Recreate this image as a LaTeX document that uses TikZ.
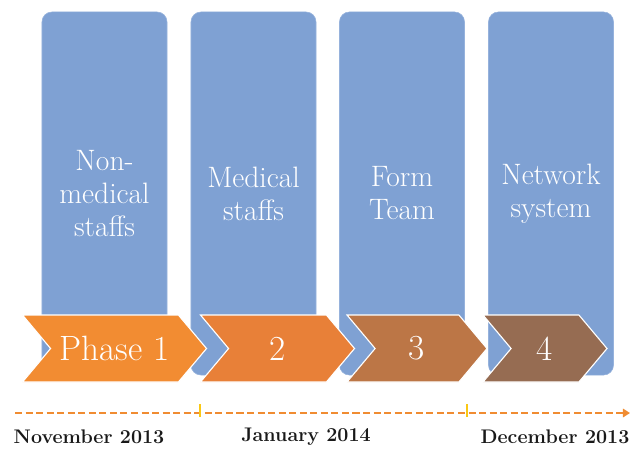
\documentclass[tikz,border=0pt]{standalone}
\usepackage{tikz}
\usetikzlibrary{positioning, arrows.meta, shapes.symbols}
\definecolor{phblue}{RGB}{127,161,211}
\definecolor{phedge}{RGB}{150,178,220}
\definecolor{phone}{RGB}{242,140,50}
\definecolor{phtwo}{RGB}{232,128,56}
\definecolor{phthree}{RGB}{188,118,70}
\definecolor{phfour}{RGB}{150,108,82}
\definecolor{tlorange}{RGB}{240,140,50}
\definecolor{tlyellow}{RGB}{250,200,20}

\begin{document}
\begin{tikzpicture}[x=0.025cm, y=-0.025cm,
  col/.style={draw=phedge, fill=phblue, rounded corners=0.25cm,
              minimum width=3.125cm, minimum height=9.075cm,
              text=white, align=center,
              font=\fontsize{21}{23.5}\selectfont},
  chev/.style={signal, signal from=west, signal to=east,
               signal pointer angle=100, draw=white, line width=0.8pt,
               minimum height=1.675cm, inner sep=0pt,
               text=white, font=\fontsize{25}{28}\selectfont},
  date/.style={font=\fontsize{14}{16}\selectfont\bfseries, text=black!90}
]
  \useasboundingbox (0,0) rectangle (637,449);

  %% Columns
  \node[col] (c1) at (104.5,193.5) {Non-\\medical\\staffs};
  \node[col] (c2) at (253.5,193.5) {Medical\\staffs};
  \node[col] (c3) at (402,193.5)   {Form\\Team};
  \node[col] (c4) at (551,193.5)   {Network\\system};

  %% Phase chevrons
  \node[chev, fill=phone,   minimum width=4.6cm]  (p1) at (114.5,348.5) {Phase 1};
  \node[chev, fill=phtwo,   minimum width=3.85cm] (p2) at (277.5,348.5) {2};
  \node[chev, fill=phthree, minimum width=3.5cm]  (p3) at (417,348.5)   {3};
  \node[chev, fill=phfour,  minimum width=3.1cm]  (p4) at (545,348.5)   {4};

  %% Timeline
  \coordinate (t0) at (15,413);
  \coordinate (t1) at (630,413);
  \draw[tlorange, line width=1.8pt, dash pattern=on 5pt off 2.5pt,
        -{Triangle[length=5pt, width=6pt]}] (t0) -- (t1);
  \foreach \x in {200,467}{
    \draw[tlyellow, line width=1pt] (\x,404) -- (\x,417);
  }

  %% Dates
  \node[date] (d1) at (89,437)  {November 2013};
  \node[date] (d2) at (306,437) {January 2014};
  \node[date] (d3) at (555,437) {December 2013};
\end{tikzpicture}
\end{document}
